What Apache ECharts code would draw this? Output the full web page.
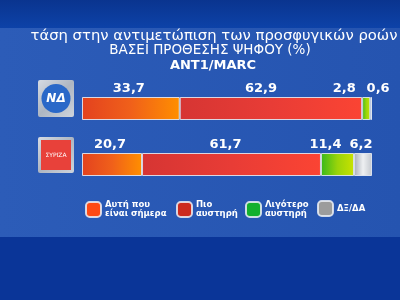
<!DOCTYPE html>
<html>
<head>
<meta charset="utf-8">
<script src="https://cdn.jsdelivr.net/npm/echarts@6/dist/echarts.min.js"></script>
<style>html,body{margin:0;padding:0;background:#0b3a9c;}#c{width:400px;height:300px;}</style>
</head>
<body>
<div id="c"></div>
<script>
const categories = ['ΝΔ', 'ΣΥΡΙΖΑ'];
const seriesNames = ['Αυτή που\nείναι σήμερα', 'Πιο\nαυστηρή', 'Λιγότερο\nαυστηρή', 'ΔΞ/ΔΑ'];
const asToday = [33.7, 20.7];
const stricter = [62.9, 61.7];
const lessStrict = [2.8, 11.4];
const dkNa = [0.6, 6.2];
const titleLines = ['τάση στην αντιμετώπιση των προσφυγικών ροών', 'ΒΑΣΕΙ ΠΡΟΘΕΣΗΣ ΨΗΦΟΥ (%)', 'ANT1/MARC'];

const chart = echarts.init(document.getElementById('c'), null, {renderer: 'canvas'});

function grad(stops) {
  return new echarts.graphic.LinearGradient(0, 0, 1, 0, stops.map((c, i) => ({offset: i / (stops.length - 1), color: c})));
}
const fills = [
  grad(['#e3421f', '#f0601a', '#ff8f00']),
  grad(['#d63533', '#e83c36', '#fb4433']),
  grad(['#38b81c', '#9ad40a', '#c9e200']),
  grad(['#a9aeb6', '#eef0f2', '#c4c8ce'])
];
const legendColors = ['#ff4a14', '#cc2a1e', '#12b02e', '#9c9c9c'];
const valueSets = [asToday, stricter, lessStrict, dkNa];
const labelOffsets = [
  [[-2, 0], [-2, 0]],
  [[-10, 0], [-6, 0]],
  [[-22, 0], [-12, 0]],
  [[7, 0], [-2, 0]]
];
const fmt = v => String(v).replace('.', ',');

const series = valueSets.map((vals, si) => ({
  name: seriesNames[si],
  type: 'bar',
  stack: 'total',
  barWidth: 23,
  itemStyle: {color: fills[si], borderColor: 'rgba(235,238,245,0.85)', borderWidth: 1},
  label: {
    show: true,
    position: 'top',
    distance: 2,
    color: '#ffffff',
    fontFamily: 'DejaVu Sans',
    fontWeight: 'bold',
    fontSize: 13,
    formatter: p => fmt(p.value)
  },
  data: vals.map((v, i) => ({value: v, label: {offset: labelOffsets[si][i]}}))
}));

const legendPos = [[85, 200], [176, 200], [245, 200], [317, 200]];
const legends = seriesNames.map((n, i) => ({
  data: [{name: n, itemStyle: {color: legendColors[i]}}],
  left: legendPos[i][0],
  top: legendPos[i][1],
  padding: 0,
  itemWidth: 15,
  itemHeight: 15,
  itemGap: 0,
  icon: 'roundRect',
  selectedMode: false,
  textStyle: {color: '#ffffff', fontFamily: 'DejaVu Sans', fontWeight: 'bold', fontSize: 8.5, lineHeight: 9.5, padding: [0, 0, 0, -1]}
}));

const titles = [
  {text: titleLines[0], left: 214, top: 28.5, textAlign: 'center', textStyle: {color: '#ffffff', fontFamily: 'DejaVu Sans', fontWeight: 'normal', fontSize: 14.8}},
  {text: titleLines[1], left: 210, top: 43, textAlign: 'center', textStyle: {color: '#ffffff', fontFamily: 'DejaVu Sans', fontWeight: 'normal', fontSize: 13.5}},
  {text: titleLines[2], left: 213, top: 59, textAlign: 'center', textStyle: {color: '#ffffff', fontFamily: 'DejaVu Sans', fontWeight: 'bold', fontSize: 13}}
].map(t => Object.assign({padding: 0}, t));

const frameFill = new echarts.graphic.LinearGradient(0, 0, 1, 1, [
  {offset: 0, color: '#d6dbe3'}, {offset: 0.5, color: '#aeb6c2'}, {offset: 1, color: '#cfd4dc'}
]);

option = {
  backgroundColor: '#0b3a9c',
  animation: false,
  title: titles,
  legend: legends,
  grid: {left: 82, right: 28, top: 80.5, height: 112, containLabel: false},
  xAxis: {type: 'value', min: 0, max: 100, show: false},
  yAxis: {type: 'category', data: categories, inverse: true, show: false},
  graphic: [
    {type: 'rect', z: -10, silent: true, shape: {x: 0, y: 28, width: 400, height: 209}, style: {fill: new echarts.graphic.LinearGradient(0, 0, 1, 0, [{offset: 0, color: '#2c5cb8'}, {offset: 1, color: '#2554b0'}])}},
    {type: 'rect', z: -10, silent: true, shape: {x: 0, y: 237, width: 400, height: 63}, style: {fill: '#0a3598'}},
    {type: 'rect', z: -9, silent: true, shape: {x: 0, y: 0, width: 400, height: 28}, style: {fill: new echarts.graphic.LinearGradient(0, 0, 0, 1, [{offset: 0, color: '#0a348f'}, {offset: 1, color: '#0d42a8'}])}},
    // ND logo
    {type: 'rect', silent: true, shape: {x: 38, y: 80, width: 36, height: 37, r: 2}, style: {fill: frameFill}},
    {type: 'circle', silent: true, shape: {cx: 56, cy: 98.5, r: 14.5}, style: {fill: '#2a68c8'}},
    {type: 'text', silent: true, style: {text: 'ΝΔ', x: 56, y: 99, align: 'center', verticalAlign: 'middle', fill: '#ffffff', font: 'italic bold 12px DejaVu Sans'}},
    // SYRIZA logo
    {type: 'rect', silent: true, shape: {x: 38, y: 137, width: 36, height: 36, r: 2}, style: {fill: frameFill}},
    {type: 'rect', silent: true, shape: {x: 41, y: 140, width: 30, height: 30}, style: {fill: '#e8413a'}},
    {type: 'text', silent: true, style: {text: 'ΣΥΡΙΖΑ', x: 56, y: 155, align: 'center', verticalAlign: 'middle', fill: '#ffffff', font: '6px DejaVu Sans'}}
  ],
  series: series
};
chart.setOption(option);
</script>
</body>
</html>
